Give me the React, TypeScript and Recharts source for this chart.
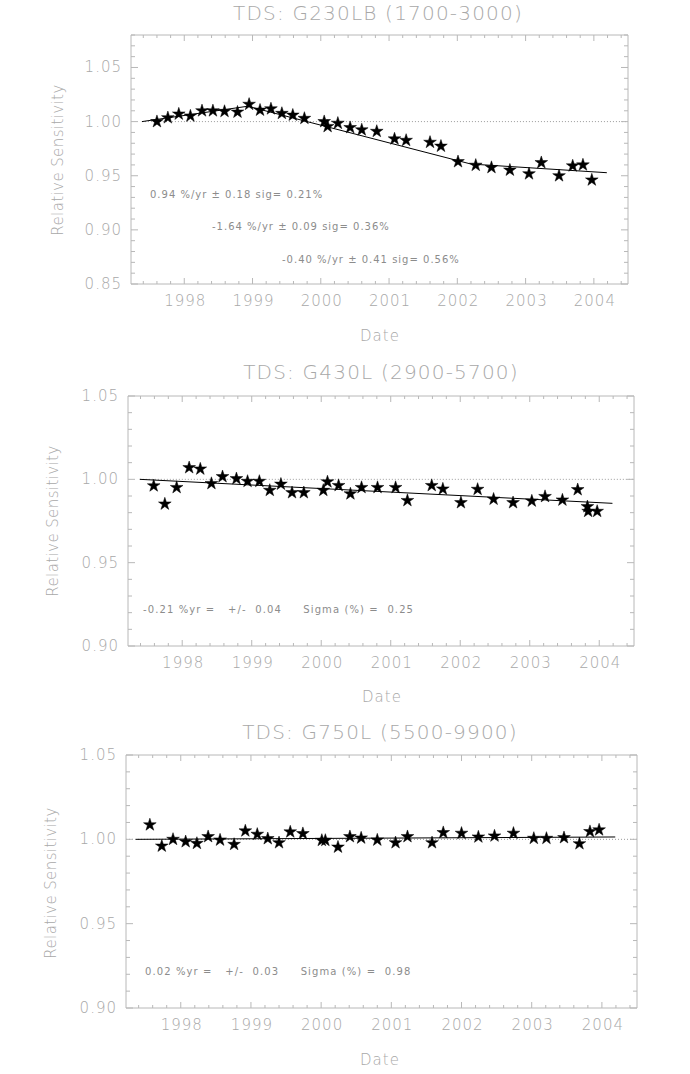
import React from 'react';
import { ComposedChart, Scatter, Line, XAxis, YAxis, ReferenceLine, Symbols } from 'recharts';

// tick labels
const yearTicks = [1998, 1999, 2000, 2001, 2002, 2003, 2004];
const xDomain: [number, number] = [1997.22, 2004.5];

// G230LB (1700-3000)
const g230lbDates = [1997.60, 1997.76, 1997.92, 1998.09, 1998.26, 1998.42, 1998.59, 1998.78, 1998.95, 1999.11, 1999.27, 1999.43, 1999.59, 1999.76, 2000.05, 2000.10, 2000.25, 2000.43, 2000.60, 2000.82, 2001.08, 2001.25, 2001.60, 2001.76, 2002.01, 2002.27, 2002.50, 2002.77, 2003.05, 2003.23, 2003.49, 2003.69, 2003.84, 2003.97];
const g230lbValues = [1.000, 1.0036, 1.007, 1.0052, 1.010, 1.010, 1.0094, 1.0088, 1.016, 1.0106, 1.0118, 1.0076, 1.006, 1.003, 1.000, 0.9955, 0.9985, 0.9945, 0.9924, 0.991, 0.984, 0.9827, 0.9809, 0.9773, 0.963, 0.9597, 0.9576, 0.9552, 0.9518, 0.9621, 0.950, 0.9591, 0.960, 0.9461];
const g230lbFitDates = [1997.38, 1998.93, 2002.2, 2004.19];
const g230lbFitValues = [1.000, 1.0142, 0.9608, 0.9528];

// G430L (2900-5700)
const g430lDates = [1997.59, 1997.75, 1997.92, 1998.10, 1998.26, 1998.42, 1998.58, 1998.78, 1998.94, 1999.11, 1999.26, 1999.42, 1999.58, 1999.75, 2000.03, 2000.09, 2000.25, 2000.42, 2000.58, 2000.81, 2001.07, 2001.24, 2001.59, 2001.75, 2002.01, 2002.25, 2002.48, 2002.76, 2003.03, 2003.22, 2003.47, 2003.69, 2003.83, 2003.84, 2003.97];
const g430lValues = [0.9961, 0.9852, 0.9951, 1.0070, 1.0062, 0.9975, 1.0016, 1.0004, 0.9988, 0.9988, 0.9934, 0.9971, 0.9920, 0.9920, 0.9934, 0.9985, 0.9963, 0.9913, 0.9951, 0.9951, 0.9951, 0.9873, 0.9963, 0.9942, 0.9860, 0.9940, 0.9881, 0.9860, 0.9870, 0.9897, 0.9876, 0.9938, 0.9836, 0.9808, 0.9808];
const g430lFitDates = [1997.39, 2004.19];
const g430lFitValues = [1.000, 0.9856];

// G750L (5500-9900)
const g750lDates = [1997.56, 1997.73, 1997.89, 1998.07, 1998.23, 1998.39, 1998.56, 1998.76, 1998.92, 1999.09, 1999.24, 1999.40, 1999.56, 1999.74, 2000.01, 2000.06, 2000.24, 2000.41, 2000.57, 2000.80, 2001.06, 2001.23, 2001.58, 2001.74, 2002.00, 2002.24, 2002.47, 2002.74, 2003.03, 2003.21, 2003.46, 2003.68, 2003.83, 2003.96];
const g750lValues = [1.0086, 0.996, 1.000, 0.9986, 0.9976, 1.0016, 0.9996, 0.997, 1.005, 1.003, 1.0004, 0.998, 1.0044, 1.0034, 0.9994, 0.9994, 0.9954, 1.0016, 1.0008, 0.9996, 0.998, 1.0016, 0.998, 1.004, 1.0036, 1.0014, 1.002, 1.0036, 1.0006, 1.0006, 1.001, 0.9974, 1.0046, 1.0056];
const g750lFitDates = [1997.36, 2004.19];
const g750lFitValues = [1.000, 1.0014];

const FONT = '"DejaVu Sans", sans-serif';
const AXIS = '#b8b8b8';
const LABEL = '#a8a8a8';
const NOTE = '#8c8c8c';

const steps = (from: number, to: number, step: number) => {
  const out: number[] = [];
  for (let v = from; v <= to + 1e-9; v += step) out.push(Math.round(v * 1000) / 1000);
  return out;
};
const isIn = (v: number, list: number[]) => list.some((m) => Math.abs(m - v) < 1e-6);
const zip = (xs: number[], ys: number[]) => xs.map((t, i) => ({ t, v: ys[i] }));

const Star = (props: any) => {
  const { cx, cy } = props;
  if (cx == null || cy == null) return null;
  return <Symbols cx={cx} cy={cy} type="star" size={50} fill="#000" stroke="#000" strokeWidth={0.5} />;
};

interface PanelProps {
  top: number;
  height: number;
  plot: { left: number; right: number; top: number; bottom: number };
  dates: number[];
  values: number[];
  fitDates: number[];
  fitValues: number[];
  yDomain: [number, number];
  yMajor: number[];
  refStart: number;
}

const Panel: React.FC<PanelProps> = ({ top, height, plot, dates, values, fitDates, fitValues, yDomain, yMajor, refStart }) => {
  const xTicks = steps(1997.4, 2004.4, 0.2);
  const yTicks = steps(yDomain[0], yDomain[1], 0.01);

  const bottomTick = (p: any) => {
    const major = isIn(p.payload.value, yearTicks);
    return (
      <g>
        <line x1={p.x} y1={p.y} x2={p.x} y2={p.y - (major ? 6 : 3)} stroke={AXIS} />
        {major && (
          <text x={p.x + 1} y={p.y + 17} textAnchor="middle" dominantBaseline="central" fill={LABEL} fontSize={15}
            fontFamily={FONT} fontWeight={200} letterSpacing={1}>
            {p.payload.value}
          </text>
        )}
      </g>
    );
  };
  const topTick = (p: any) => {
    const major = isIn(p.payload.value, yearTicks);
    return <line x1={p.x} y1={p.y} x2={p.x} y2={p.y + (major ? 6 : 3)} stroke={AXIS} />;
  };
  const leftTick = (p: any) => {
    const major = isIn(p.payload.value, yMajor);
    return (
      <g>
        <line x1={p.x} y1={p.y} x2={p.x + (major ? 7 : 4)} y2={p.y} stroke={AXIS} />
        {major && (
          <text x={p.x - 9} y={p.y} textAnchor="end" dominantBaseline="central" fill={LABEL} fontSize={15}
            fontFamily={FONT} fontWeight={200} letterSpacing={1}>
            {p.payload.value.toFixed(2)}
          </text>
        )}
      </g>
    );
  };
  const rightTick = (p: any) => {
    const major = isIn(p.payload.value, yMajor);
    return <line x1={p.x} y1={p.y} x2={p.x - (major ? 7 : 4)} y2={p.y} stroke={AXIS} />;
  };

  return (
    <div style={{ position: 'absolute', left: 0, top }}>
      <ComposedChart
        width={690}
        height={height}
        margin={{ top: plot.top - top - 1, bottom: top + height - plot.bottom - 1, left: plot.left - 1, right: 690 - plot.right - 1 }}
      >
        <XAxis dataKey="t" type="number" domain={xDomain} allowDataOverflow ticks={xTicks} interval={0} height={1}
          tickSize={0} tickMargin={0} tickLine={false} axisLine={{ stroke: AXIS }} tick={bottomTick} />
        <XAxis xAxisId="top" orientation="top" dataKey="t" type="number" domain={xDomain} allowDataOverflow ticks={xTicks} interval={0} height={1}
          tickSize={0} tickMargin={0} tickLine={false} axisLine={{ stroke: AXIS }} tick={topTick} />
        <YAxis type="number" domain={yDomain} allowDataOverflow ticks={yTicks} interval={0} width={1}
          tickSize={0} tickMargin={0} tickLine={false} axisLine={{ stroke: AXIS }} tick={leftTick} />
        <YAxis yAxisId="right" orientation="right" type="number" domain={yDomain} allowDataOverflow ticks={yTicks} interval={0} width={1}
          tickSize={0} tickMargin={0} tickLine={false} axisLine={{ stroke: AXIS }} tick={rightTick} />
        <ReferenceLine segment={[{ x: refStart, y: 1 }, { x: xDomain[1], y: 1 }]} stroke="#9a9a9a" strokeDasharray="1 2" />
        <Line data={zip(fitDates, fitValues)} dataKey="v" type="linear" stroke="#000" strokeWidth={1} dot={false} isAnimationActive={false} />
        <Scatter data={zip(dates, values)} dataKey="v" shape={Star} isAnimationActive={false} />
      </ComposedChart>
    </div>
  );
};

const centered = (x: number, y: number, size: number, spacing: number, rotate = false): React.CSSProperties => ({
  position: 'absolute',
  left: x,
  top: y,
  transform: `translate(-50%, -50%)${rotate ? ' rotate(-90deg)' : ''}`,
  whiteSpace: 'nowrap',
  fontFamily: FONT,
  fontSize: size,
  fontWeight: 200,
  letterSpacing: spacing,
  color: LABEL,
  lineHeight: 1,
});

const note = (x: number, y: number, spacing: number): React.CSSProperties => ({
  position: 'absolute',
  left: x,
  top: y,
  transform: 'translateY(-50%)',
  whiteSpace: 'pre',
  fontFamily: FONT,
  fontSize: 10,
  letterSpacing: spacing,
  color: NOTE,
  lineHeight: 1,
});

export default function App() {
  return (
    <div style={{ position: 'absolute', left: 0, top: 0, width: 690, height: 1074, background: '#fff' }}>
      <Panel top={0} height={350} plot={{ left: 131, right: 628, top: 35, bottom: 284 }}
        dates={g230lbDates} values={g230lbValues} fitDates={g230lbFitDates} fitValues={g230lbFitValues}
        yDomain={[0.85, 1.08]} yMajor={[0.85, 0.9, 0.95, 1.0, 1.05]} refStart={1997.38} />
      <Panel top={350} height={360} plot={{ left: 128, right: 634, top: 396, bottom: 646 }}
        dates={g430lDates} values={g430lValues} fitDates={g430lFitDates} fitValues={g430lFitValues}
        yDomain={[0.9, 1.05]} yMajor={[0.9, 0.95, 1.0, 1.05]} refStart={1997.39} />
      <Panel top={710} height={364} plot={{ left: 126, right: 637, top: 755, bottom: 1008 }}
        dates={g750lDates} values={g750lValues} fitDates={g750lFitDates} fitValues={g750lFitValues}
        yDomain={[0.9, 1.05]} yMajor={[0.9, 0.95, 1.0, 1.05]} refStart={1997.22} />

      <div style={centered(378, 13, 20, 1.2)}>TDS: G230LB (1700-3000)</div>
      <div style={centered(381, 372, 20, 1.2)}>TDS: G430L (2900-5700)</div>
      <div style={centered(380, 732, 20, 1.2)}>TDS: G750L (5500-9900)</div>

      <div style={centered(380, 336, 15, 1)}>Date</div>
      <div style={centered(382, 697, 15, 1)}>Date</div>
      <div style={centered(380, 1060, 15, 1)}>Date</div>

      <div style={centered(58, 160, 15, 0.4, true)}>Relative Sensitivity</div>
      <div style={centered(53, 521, 15, 0.4, true)}>Relative Sensitivity</div>
      <div style={centered(51, 883, 15, 0.4, true)}>Relative Sensitivity</div>

      <div style={note(150, 195, 1)}>0.94 %/yr ± 0.18 sig= 0.21%</div>
      <div style={note(212, 227, 1)}>-1.64 %/yr ± 0.09 sig= 0.36%</div>
      <div style={note(282, 260, 1)}>-0.40 %/yr ± 0.41 sig= 0.56%</div>
      <div style={note(143, 610, 1.1)}>{'-0.21 %yr =   +/-  0.04     Sigma (%) =  0.25'}</div>
      <div style={note(145, 972, 1.1)}>{'0.02 %yr =   +/-  0.03     Sigma (%) =  0.98'}</div>
    </div>
  );
}
